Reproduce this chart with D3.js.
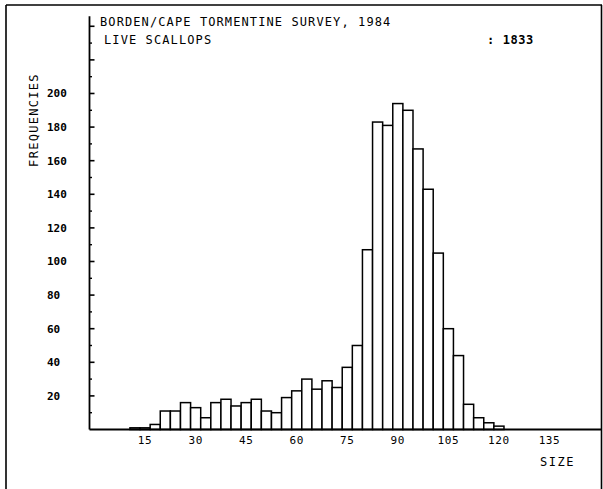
<!DOCTYPE html>
<html>
<head>
<meta charset="utf-8">
<script src="https://cdn.jsdelivr.net/npm/d3@7"></script>
<style>
  html, body { margin: 0; padding: 0; background: #fff; }
  svg { display: block; }
  text { font-family: "DejaVu Sans Mono", "Liberation Mono", monospace; fill: #000; }
</style>
</head>
<body>
<svg id="chart" width="603" height="489"></svg>
<script>
// Shell size classes (bin centres, width 3) and counts of live scallops
const sizeBins = [12, 15, 18, 21, 24, 27, 30, 33, 36, 39, 42, 45, 48, 51, 54, 57, 60, 63, 66, 69,
                  72, 75, 78, 81, 84, 87, 90, 93, 96, 99, 102, 105, 108, 111, 114, 117, 120];
const counts   = [1, 1, 3, 11, 11, 16, 13, 7, 16, 18, 14, 16, 18, 11, 10, 19, 23, 30, 24, 29,
                  25, 37, 50, 107, 183, 181, 194, 190, 167, 143, 105, 60, 44, 15, 7, 4, 2];
const binWidth = 3;

const xTickValues = [15, 30, 45, 60, 75, 90, 105, 120, 135];
const yTickValues = [20, 40, 60, 80, 100, 120, 140, 160, 180, 200];
const yMajorTicks = [20, 40, 60, 80, 100, 120, 140, 160, 180, 200, 220, 240];
const yMinorTicks = [10, 30, 50, 70, 90, 110, 130, 150, 170, 190, 210, 230];

const titleLines = ["BORDEN/CAPE TORMENTINE SURVEY, 1984", "LIVE SCALLOPS"];
const totalLabel = ": 1833";
const yTitle = "FREQUENCIES";
const xTitle = "SIZE";

const svg = d3.select("#chart");

const x = d3.scaleLinear().domain([-1.5, 150.5]).range([89.5, 601.7]);
const y = d3.scaleLinear().domain([0, 246]).range([429.5, 16.2]);

// Outer frame
const frame = svg.append("g").attr("fill", "none").attr("stroke", "#000").attr("stroke-width", 1.6);
frame.append("line").attr("x1", 6).attr("x2", 6).attr("y1", 5).attr("y2", 489);
frame.append("line").attr("x1", 6).attr("x2", 602).attr("y1", 5).attr("y2", 5);
frame.append("line").attr("x1", 601.5).attr("x2", 601.5).attr("y1", 5).attr("y2", 489);

// Histogram bars
svg.append("g")
  .selectAll("rect")
  .data(sizeBins.map((s, i) => ({ s, c: counts[i] })))
  .join("rect")
  .attr("x", d => x(d.s - binWidth / 2))
  .attr("width", d => x(d.s + binWidth / 2) - x(d.s - binWidth / 2))
  .attr("y", d => y(d.c))
  .attr("height", d => y(0) - y(d.c))
  .attr("fill", "#fff")
  .attr("stroke", "#000")
  .attr("stroke-width", 1.5);

// Y axis: line, major ticks every 20, minor ticks every 10
const yAxis = svg.append("g").attr("stroke", "#000");
yAxis.append("line")
  .attr("x1", x(-1.5)).attr("x2", x(-1.5))
  .attr("y1", y(246)).attr("y2", y(0))
  .attr("stroke-width", 1.8);
yAxis.selectAll("line.major").data(yMajorTicks).join("line")
  .attr("class", "major")
  .attr("x1", x(-1.5)).attr("x2", x(-1.5) + 5)
  .attr("y1", d => y(d)).attr("y2", d => y(d))
  .attr("stroke-width", 1.6);
yAxis.selectAll("line.minor").data(yMinorTicks).join("line")
  .attr("class", "minor")
  .attr("x1", x(-1.5)).attr("x2", x(-1.5) + 2.5)
  .attr("y1", d => y(d)).attr("y2", d => y(d))
  .attr("stroke-width", 1.4);

svg.append("g").selectAll("text").data(yTickValues).join("text")
  .attr("x", 47)
  .attr("y", d => y(d) + 4)
  .attr("font-size", 11)
  .attr("font-weight", "bold")
  .text(d => d);

// X axis line and labels
svg.append("line")
  .attr("x1", x(-1.5)).attr("x2", x(150.5))
  .attr("y1", y(0)).attr("y2", y(0))
  .attr("stroke", "#000").attr("stroke-width", 2);

svg.append("g").selectAll("text").data(xTickValues).join("text")
  .attr("x", d => x(d))
  .attr("y", 444)
  .attr("text-anchor", "middle")
  .attr("font-size", 11)
  .attr("letter-spacing", 0.6)
  .text(d => d);

// Titles
svg.append("text")
  .attr("x", 100).attr("y", 26)
  .attr("font-size", 12).attr("letter-spacing", 1.1)
  .text(titleLines[0]);
svg.append("text")
  .attr("x", 104).attr("y", 44)
  .attr("font-size", 12).attr("letter-spacing", 1.1)
  .text(titleLines[1]);
svg.append("text")
  .attr("x", 487).attr("y", 44)
  .attr("font-size", 12).attr("font-weight", "bold").attr("letter-spacing", 0.6)
  .text(totalLabel);

svg.append("text")
  .attr("transform", "translate(38,120) rotate(-90)")
  .attr("text-anchor", "middle")
  .attr("font-size", 12).attr("letter-spacing", 1.3)
  .text(yTitle);

svg.append("text")
  .attr("x", 540).attr("y", 466)
  .attr("font-size", 12).attr("letter-spacing", 1.5)
  .text(xTitle);
</script>
</body>
</html>
